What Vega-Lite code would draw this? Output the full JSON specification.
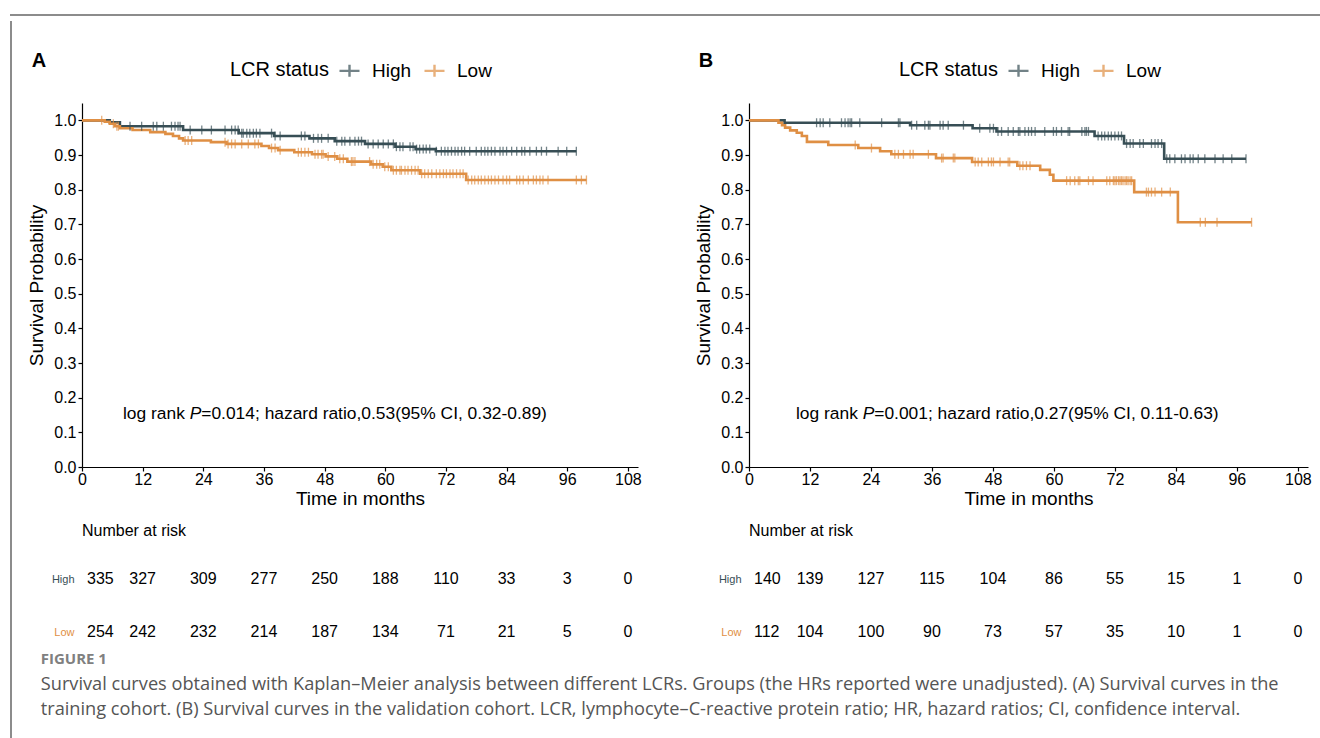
{
"$schema":"https://vega.github.io/schema/vega-lite/v6.json",
"background":"white",
"padding":{"left":8,"top":12,"right":0,"bottom":0},
"config":{
 "font":"Liberation Sans",
 "view":{"stroke":null},
 "axis":{"labelFont":"Liberation Sans","titleFont":"Liberation Sans","labelColor":"#000","titleColor":"#000","domainColor":"#000","tickColor":"#000","grid":false,"labelFontSize":16,"titleFontSize":19,"titleFontWeight":"normal","tickSize":4,"domainWidth":1.2,"tickWidth":1.2,"labelFlush":false,"labelOverlap":false},
 "legend":{"labelFont":"Liberation Sans","titleFont":"Liberation Sans","labelFontSize":19,"titleFontSize":20,"titleFontWeight":"normal","labelColor":"#000","titleColor":"#000"},
 "title":{"font":"Liberation Sans","color":"#000"}
},
"datasets":{
"kmA":[
{"t":0,"s":1,"g":"High","c":0},{"t":5.5,"s":0.994,"g":"High","c":0},{"t":7.5,"s":0.983,"g":"High","c":0},{"t":20,"s":0.972,"g":"High","c":0},{"t":31,"s":0.963,"g":"High","c":0},{"t":38,"s":0.955,"g":"High","c":0},{"t":45,"s":0.948,"g":"High","c":0},{"t":50,"s":0.94,"g":"High","c":0},{"t":56,"s":0.932,"g":"High","c":0},{"t":62,"s":0.924,"g":"High","c":0},{"t":66,"s":0.917,"g":"High","c":0},{"t":70,"s":0.911,"g":"High","c":0},
{"t":9.5,"s":0.983,"g":"High","c":1},{"t":11.8,"s":0.983,"g":"High","c":1},{"t":14.1,"s":0.983,"g":"High","c":1},{"t":14.8,"s":0.983,"g":"High","c":1},{"t":16.1,"s":0.983,"g":"High","c":1},{"t":17.7,"s":0.983,"g":"High","c":1},{"t":18.4,"s":0.983,"g":"High","c":1},{"t":19.0,"s":0.983,"g":"High","c":1},{"t":19.4,"s":0.983,"g":"High","c":1},
{"t":21.4,"s":0.972,"g":"High","c":1},{"t":23.7,"s":0.972,"g":"High","c":1},{"t":25.6,"s":0.972,"g":"High","c":1},{"t":28.3,"s":0.972,"g":"High","c":1},{"t":29.6,"s":0.972,"g":"High","c":1},{"t":30.3,"s":0.972,"g":"High","c":1},{"t":30.9,"s":0.972,"g":"High","c":1},
{"t":31.6,"s":0.963,"g":"High","c":1},{"t":31.9,"s":0.963,"g":"High","c":1},{"t":32.6,"s":0.963,"g":"High","c":1},{"t":33.2,"s":0.963,"g":"High","c":1},{"t":33.9,"s":0.963,"g":"High","c":1},{"t":34.5,"s":0.963,"g":"High","c":1},{"t":35.2,"s":0.963,"g":"High","c":1},{"t":37.5,"s":0.963,"g":"High","c":1},
{"t":38.2,"s":0.955,"g":"High","c":1},{"t":39.2,"s":0.955,"g":"High","c":1},{"t":43.4,"s":0.955,"g":"High","c":1},{"t":44.1,"s":0.955,"g":"High","c":1},
{"t":45.8,"s":0.948,"g":"High","c":1},{"t":46.7,"s":0.948,"g":"High","c":1},{"t":47.4,"s":0.948,"g":"High","c":1},{"t":48.7,"s":0.948,"g":"High","c":1},
{"t":50.4,"s":0.94,"g":"High","c":1},{"t":51.4,"s":0.94,"g":"High","c":1},{"t":52.0,"s":0.94,"g":"High","c":1},{"t":53.0,"s":0.94,"g":"High","c":1},{"t":54.0,"s":0.94,"g":"High","c":1},{"t":54.7,"s":0.94,"g":"High","c":1},{"t":55.3,"s":0.94,"g":"High","c":1},
{"t":56.6,"s":0.932,"g":"High","c":1},{"t":57.6,"s":0.932,"g":"High","c":1},{"t":58.6,"s":0.932,"g":"High","c":1},{"t":59.6,"s":0.932,"g":"High","c":1},{"t":60.6,"s":0.932,"g":"High","c":1},{"t":61.6,"s":0.932,"g":"High","c":1},
{"t":62.2,"s":0.924,"g":"High","c":1},{"t":62.9,"s":0.924,"g":"High","c":1},{"t":63.5,"s":0.924,"g":"High","c":1},{"t":64.9,"s":0.924,"g":"High","c":1},{"t":65.5,"s":0.924,"g":"High","c":1},
{"t":66.2,"s":0.917,"g":"High","c":1},{"t":66.8,"s":0.917,"g":"High","c":1},{"t":67.5,"s":0.917,"g":"High","c":1},{"t":68.1,"s":0.917,"g":"High","c":1},{"t":68.8,"s":0.917,"g":"High","c":1},
{"t":70.1,"s":0.911,"g":"High","c":1},{"t":71.1,"s":0.911,"g":"High","c":1},{"t":71.8,"s":0.911,"g":"High","c":1},{"t":72.4,"s":0.911,"g":"High","c":1},{"t":73.1,"s":0.911,"g":"High","c":1},{"t":73.8,"s":0.911,"g":"High","c":1},{"t":74.4,"s":0.911,"g":"High","c":1},{"t":75.1,"s":0.911,"g":"High","c":1},{"t":75.7,"s":0.911,"g":"High","c":1},{"t":76.7,"s":0.911,"g":"High","c":1},{"t":78.0,"s":0.911,"g":"High","c":1},{"t":79.0,"s":0.911,"g":"High","c":1},{"t":79.7,"s":0.911,"g":"High","c":1},{"t":80.3,"s":0.911,"g":"High","c":1},{"t":81.0,"s":0.911,"g":"High","c":1},{"t":81.7,"s":0.911,"g":"High","c":1},{"t":82.7,"s":0.911,"g":"High","c":1},{"t":83.3,"s":0.911,"g":"High","c":1},{"t":84.0,"s":0.911,"g":"High","c":1},{"t":85.0,"s":0.911,"g":"High","c":1},{"t":86.0,"s":0.911,"g":"High","c":1},{"t":87.0,"s":0.911,"g":"High","c":1},{"t":87.6,"s":0.911,"g":"High","c":1},{"t":88.6,"s":0.911,"g":"High","c":1},{"t":89.9,"s":0.911,"g":"High","c":1},{"t":90.9,"s":0.911,"g":"High","c":1},{"t":91.9,"s":0.911,"g":"High","c":1},{"t":94.2,"s":0.911,"g":"High","c":1},{"t":95.9,"s":0.911,"g":"High","c":1},{"t":97.8,"s":0.911,"g":"High","c":1},
{"t":0,"s":1,"g":"Low","c":0},{"t":4.5,"s":0.996,"g":"Low","c":0},{"t":5.5,"s":0.99,"g":"Low","c":0},{"t":6.5,"s":0.983,"g":"Low","c":0},{"t":7.5,"s":0.977,"g":"Low","c":0},{"t":10,"s":0.972,"g":"Low","c":0},{"t":13.5,"s":0.966,"g":"Low","c":0},{"t":16.5,"s":0.961,"g":"Low","c":0},{"t":18,"s":0.955,"g":"Low","c":0},{"t":19.2,"s":0.948,"g":"Low","c":0},{"t":20,"s":0.942,"g":"Low","c":0},{"t":25.5,"s":0.937,"g":"Low","c":0},{"t":28.6,"s":0.932,"g":"Low","c":0},{"t":35.5,"s":0.926,"g":"Low","c":0},{"t":37,"s":0.92,"g":"Low","c":0},{"t":38.8,"s":0.914,"g":"Low","c":0},{"t":42,"s":0.908,"g":"Low","c":0},{"t":45.5,"s":0.902,"g":"Low","c":0},{"t":48.2,"s":0.896,"g":"Low","c":0},{"t":50.5,"s":0.889,"g":"Low","c":0},{"t":52.5,"s":0.881,"g":"Low","c":0},{"t":57.2,"s":0.873,"g":"Low","c":0},{"t":59.5,"s":0.866,"g":"Low","c":0},{"t":61.2,"s":0.856,"g":"Low","c":0},{"t":66.9,"s":0.846,"g":"Low","c":0},{"t":76,"s":0.828,"g":"Low","c":0},
{"t":3.9,"s":1,"g":"Low","c":1},{"t":6.2,"s":0.99,"g":"Low","c":1},{"t":6.9,"s":0.983,"g":"Low","c":1},{"t":7.2,"s":0.983,"g":"Low","c":1},
{"t":20.4,"s":0.942,"g":"Low","c":1},{"t":21.0,"s":0.942,"g":"Low","c":1},{"t":21.7,"s":0.942,"g":"Low","c":1},{"t":28.3,"s":0.937,"g":"Low","c":1},
{"t":28.9,"s":0.932,"g":"Low","c":1},{"t":29.6,"s":0.932,"g":"Low","c":1},{"t":30.3,"s":0.932,"g":"Low","c":1},{"t":31.6,"s":0.932,"g":"Low","c":1},{"t":32.9,"s":0.932,"g":"Low","c":1},{"t":34.2,"s":0.932,"g":"Low","c":1},{"t":34.9,"s":0.932,"g":"Low","c":1},
{"t":37.5,"s":0.92,"g":"Low","c":1},{"t":38.2,"s":0.92,"g":"Low","c":1},{"t":39.2,"s":0.914,"g":"Low","c":1},
{"t":42.8,"s":0.908,"g":"Low","c":1},{"t":43.4,"s":0.908,"g":"Low","c":1},{"t":44.1,"s":0.908,"g":"Low","c":1},{"t":44.8,"s":0.908,"g":"Low","c":1},
{"t":46.1,"s":0.902,"g":"Low","c":1},{"t":46.7,"s":0.902,"g":"Low","c":1},{"t":47.4,"s":0.902,"g":"Low","c":1},{"t":47.7,"s":0.902,"g":"Low","c":1},
{"t":48.7,"s":0.896,"g":"Low","c":1},{"t":50.0,"s":0.896,"g":"Low","c":1},{"t":51.0,"s":0.889,"g":"Low","c":1},{"t":51.7,"s":0.889,"g":"Low","c":1},
{"t":53.3,"s":0.881,"g":"Low","c":1},{"t":53.6,"s":0.881,"g":"Low","c":1},{"t":54.0,"s":0.881,"g":"Low","c":1},{"t":56.9,"s":0.881,"g":"Low","c":1},
{"t":57.6,"s":0.873,"g":"Low","c":1},{"t":58.3,"s":0.873,"g":"Low","c":1},{"t":58.9,"s":0.873,"g":"Low","c":1},{"t":59.9,"s":0.866,"g":"Low","c":1},{"t":60.6,"s":0.866,"g":"Low","c":1},
{"t":61.6,"s":0.856,"g":"Low","c":1},{"t":62.2,"s":0.856,"g":"Low","c":1},{"t":62.9,"s":0.856,"g":"Low","c":1},{"t":63.2,"s":0.856,"g":"Low","c":1},{"t":63.9,"s":0.856,"g":"Low","c":1},{"t":64.5,"s":0.856,"g":"Low","c":1},{"t":65.2,"s":0.856,"g":"Low","c":1},{"t":65.9,"s":0.856,"g":"Low","c":1},{"t":66.5,"s":0.856,"g":"Low","c":1},
{"t":67.2,"s":0.846,"g":"Low","c":1},{"t":67.8,"s":0.846,"g":"Low","c":1},{"t":68.5,"s":0.846,"g":"Low","c":1},{"t":69.2,"s":0.846,"g":"Low","c":1},{"t":70.1,"s":0.846,"g":"Low","c":1},{"t":70.8,"s":0.846,"g":"Low","c":1},{"t":71.5,"s":0.846,"g":"Low","c":1},{"t":72.1,"s":0.846,"g":"Low","c":1},{"t":72.8,"s":0.846,"g":"Low","c":1},{"t":73.4,"s":0.846,"g":"Low","c":1},{"t":74.1,"s":0.846,"g":"Low","c":1},{"t":74.8,"s":0.846,"g":"Low","c":1},{"t":75.4,"s":0.846,"g":"Low","c":1},
{"t":76.4,"s":0.828,"g":"Low","c":1},{"t":77.1,"s":0.828,"g":"Low","c":1},{"t":77.7,"s":0.828,"g":"Low","c":1},{"t":78.4,"s":0.828,"g":"Low","c":1},{"t":79.0,"s":0.828,"g":"Low","c":1},{"t":79.7,"s":0.828,"g":"Low","c":1},{"t":80.4,"s":0.828,"g":"Low","c":1},{"t":81.0,"s":0.828,"g":"Low","c":1},{"t":81.7,"s":0.828,"g":"Low","c":1},{"t":82.4,"s":0.828,"g":"Low","c":1},{"t":83.3,"s":0.828,"g":"Low","c":1},{"t":84.0,"s":0.828,"g":"Low","c":1},{"t":84.6,"s":0.828,"g":"Low","c":1},{"t":86.0,"s":0.828,"g":"Low","c":1},{"t":86.6,"s":0.828,"g":"Low","c":1},{"t":87.3,"s":0.828,"g":"Low","c":1},{"t":88.3,"s":0.828,"g":"Low","c":1},{"t":89.3,"s":0.828,"g":"Low","c":1},{"t":89.9,"s":0.828,"g":"Low","c":1},{"t":90.6,"s":0.828,"g":"Low","c":1},{"t":91.2,"s":0.828,"g":"Low","c":1},{"t":92.2,"s":0.828,"g":"Low","c":1},{"t":97.8,"s":0.828,"g":"Low","c":1},{"t":98.8,"s":0.828,"g":"Low","c":1},{"t":99.8,"s":0.828,"g":"Low","c":1}
],
"kmB":[
{"t":0,"s":1,"g":"High","c":0},{"t":7,"s":0.993,"g":"High","c":0},{"t":31.7,"s":0.986,"g":"High","c":0},{"t":44,"s":0.977,"g":"High","c":0},{"t":48.7,"s":0.968,"g":"High","c":0},{"t":68,"s":0.955,"g":"High","c":0},{"t":73.8,"s":0.933,"g":"High","c":0},{"t":81.7,"s":0.889,"g":"High","c":0},
{"t":13.3,"s":0.993,"g":"High","c":1},{"t":14.0,"s":0.993,"g":"High","c":1},{"t":14.6,"s":0.993,"g":"High","c":1},{"t":15.9,"s":0.993,"g":"High","c":1},{"t":18.2,"s":0.993,"g":"High","c":1},{"t":18.9,"s":0.993,"g":"High","c":1},{"t":19.5,"s":0.993,"g":"High","c":1},{"t":19.9,"s":0.993,"g":"High","c":1},{"t":20.2,"s":0.993,"g":"High","c":1},{"t":21.8,"s":0.993,"g":"High","c":1},{"t":26.1,"s":0.993,"g":"High","c":1},{"t":29.4,"s":0.993,"g":"High","c":1},{"t":29.7,"s":0.993,"g":"High","c":1},
{"t":32.0,"s":0.986,"g":"High","c":1},{"t":33.0,"s":0.986,"g":"High","c":1},{"t":34.6,"s":0.986,"g":"High","c":1},{"t":35.3,"s":0.986,"g":"High","c":1},{"t":35.6,"s":0.986,"g":"High","c":1},{"t":37.6,"s":0.986,"g":"High","c":1},{"t":38.2,"s":0.986,"g":"High","c":1},{"t":39.2,"s":0.986,"g":"High","c":1},{"t":42.2,"s":0.986,"g":"High","c":1},
{"t":45.4,"s":0.977,"g":"High","c":1},{"t":47.4,"s":0.977,"g":"High","c":1},{"t":48.1,"s":0.977,"g":"High","c":1},
{"t":49.0,"s":0.968,"g":"High","c":1},{"t":49.7,"s":0.968,"g":"High","c":1},{"t":51.0,"s":0.968,"g":"High","c":1},{"t":52.0,"s":0.968,"g":"High","c":1},{"t":53.0,"s":0.968,"g":"High","c":1},{"t":53.3,"s":0.968,"g":"High","c":1},{"t":54.3,"s":0.968,"g":"High","c":1},{"t":55.0,"s":0.968,"g":"High","c":1},{"t":55.6,"s":0.968,"g":"High","c":1},{"t":56.3,"s":0.968,"g":"High","c":1},{"t":58.2,"s":0.968,"g":"High","c":1},{"t":59.9,"s":0.968,"g":"High","c":1},{"t":60.5,"s":0.968,"g":"High","c":1},{"t":61.5,"s":0.968,"g":"High","c":1},{"t":62.8,"s":0.968,"g":"High","c":1},{"t":63.1,"s":0.968,"g":"High","c":1},{"t":65.5,"s":0.968,"g":"High","c":1},{"t":66.1,"s":0.968,"g":"High","c":1},{"t":66.4,"s":0.968,"g":"High","c":1},{"t":66.8,"s":0.968,"g":"High","c":1},
{"t":68.7,"s":0.955,"g":"High","c":1},{"t":69.4,"s":0.955,"g":"High","c":1},{"t":70.0,"s":0.955,"g":"High","c":1},{"t":70.7,"s":0.955,"g":"High","c":1},{"t":71.3,"s":0.955,"g":"High","c":1},{"t":72.0,"s":0.955,"g":"High","c":1},{"t":72.7,"s":0.955,"g":"High","c":1},{"t":73.3,"s":0.955,"g":"High","c":1},
{"t":74.3,"s":0.933,"g":"High","c":1},{"t":75.0,"s":0.933,"g":"High","c":1},{"t":75.6,"s":0.933,"g":"High","c":1},{"t":76.9,"s":0.933,"g":"High","c":1},{"t":77.6,"s":0.933,"g":"High","c":1},{"t":79.2,"s":0.933,"g":"High","c":1},{"t":79.9,"s":0.933,"g":"High","c":1},{"t":80.5,"s":0.933,"g":"High","c":1},{"t":81.2,"s":0.933,"g":"High","c":1},
{"t":82.2,"s":0.889,"g":"High","c":1},{"t":82.8,"s":0.889,"g":"High","c":1},{"t":83.8,"s":0.889,"g":"High","c":1},{"t":85.1,"s":0.889,"g":"High","c":1},{"t":85.8,"s":0.889,"g":"High","c":1},{"t":86.8,"s":0.889,"g":"High","c":1},{"t":87.4,"s":0.889,"g":"High","c":1},{"t":88.4,"s":0.889,"g":"High","c":1},{"t":89.7,"s":0.889,"g":"High","c":1},{"t":91.7,"s":0.889,"g":"High","c":1},{"t":93.3,"s":0.889,"g":"High","c":1},{"t":95.0,"s":0.889,"g":"High","c":1},{"t":97.8,"s":0.889,"g":"High","c":1},
{"t":0,"s":1,"g":"Low","c":0},{"t":5.8,"s":0.993,"g":"Low","c":0},{"t":6.5,"s":0.986,"g":"Low","c":0},{"t":7.1,"s":0.979,"g":"Low","c":0},{"t":8.1,"s":0.971,"g":"Low","c":0},{"t":9.4,"s":0.964,"g":"Low","c":0},{"t":10.4,"s":0.955,"g":"Low","c":0},{"t":11.4,"s":0.938,"g":"Low","c":0},{"t":15.6,"s":0.929,"g":"Low","c":0},{"t":21.5,"s":0.92,"g":"Low","c":0},{"t":25.8,"s":0.911,"g":"Low","c":0},{"t":28,"s":0.902,"g":"Low","c":0},{"t":36.8,"s":0.891,"g":"Low","c":0},{"t":43.9,"s":0.88,"g":"Low","c":0},{"t":52.8,"s":0.869,"g":"Low","c":0},{"t":57.3,"s":0.857,"g":"Low","c":0},{"t":59.2,"s":0.843,"g":"Low","c":0},{"t":59.9,"s":0.826,"g":"Low","c":0},{"t":75.8,"s":0.793,"g":"Low","c":0},{"t":84.4,"s":0.706,"g":"Low","c":0},
{"t":20.9,"s":0.929,"g":"Low","c":1},{"t":24.1,"s":0.92,"g":"Low","c":1},
{"t":28.7,"s":0.902,"g":"Low","c":1},{"t":29.4,"s":0.902,"g":"Low","c":1},{"t":30.4,"s":0.902,"g":"Low","c":1},{"t":31.7,"s":0.902,"g":"Low","c":1},{"t":32.3,"s":0.902,"g":"Low","c":1},{"t":35.3,"s":0.902,"g":"Low","c":1},
{"t":37.9,"s":0.891,"g":"Low","c":1},{"t":38.2,"s":0.891,"g":"Low","c":1},{"t":40.2,"s":0.891,"g":"Low","c":1},{"t":40.5,"s":0.891,"g":"Low","c":1},
{"t":44.5,"s":0.88,"g":"Low","c":1},{"t":45.1,"s":0.88,"g":"Low","c":1},{"t":45.8,"s":0.88,"g":"Low","c":1},{"t":47.1,"s":0.88,"g":"Low","c":1},{"t":47.7,"s":0.88,"g":"Low","c":1},{"t":48.1,"s":0.88,"g":"Low","c":1},{"t":49.4,"s":0.88,"g":"Low","c":1},{"t":51.0,"s":0.88,"g":"Low","c":1},{"t":51.3,"s":0.88,"g":"Low","c":1},
{"t":53.3,"s":0.869,"g":"Low","c":1},{"t":53.9,"s":0.869,"g":"Low","c":1},{"t":54.6,"s":0.869,"g":"Low","c":1},{"t":55.3,"s":0.869,"g":"Low","c":1},
{"t":62.5,"s":0.826,"g":"Low","c":1},{"t":63.2,"s":0.826,"g":"Low","c":1},{"t":64.1,"s":0.826,"g":"Low","c":1},{"t":64.8,"s":0.826,"g":"Low","c":1},{"t":65.1,"s":0.826,"g":"Low","c":1},{"t":66.8,"s":0.826,"g":"Low","c":1},{"t":67.7,"s":0.826,"g":"Low","c":1},{"t":70.4,"s":0.826,"g":"Low","c":1},{"t":71.0,"s":0.826,"g":"Low","c":1},{"t":71.7,"s":0.826,"g":"Low","c":1},{"t":72.0,"s":0.826,"g":"Low","c":1},{"t":72.3,"s":0.826,"g":"Low","c":1},{"t":72.7,"s":0.826,"g":"Low","c":1},{"t":73.0,"s":0.826,"g":"Low","c":1},{"t":73.3,"s":0.826,"g":"Low","c":1},{"t":73.6,"s":0.826,"g":"Low","c":1},{"t":74.0,"s":0.826,"g":"Low","c":1},{"t":74.3,"s":0.826,"g":"Low","c":1},{"t":74.6,"s":0.826,"g":"Low","c":1},{"t":75.0,"s":0.826,"g":"Low","c":1},{"t":75.3,"s":0.826,"g":"Low","c":1},
{"t":78.2,"s":0.793,"g":"Low","c":1},{"t":78.6,"s":0.793,"g":"Low","c":1},{"t":79.2,"s":0.793,"g":"Low","c":1},{"t":79.9,"s":0.793,"g":"Low","c":1},{"t":81.2,"s":0.793,"g":"Low","c":1},{"t":82.9,"s":0.793,"g":"Low","c":1},
{"t":88.8,"s":0.706,"g":"Low","c":1},{"t":89.8,"s":0.706,"g":"Low","c":1},{"t":92.1,"s":0.706,"g":"Low","c":1},{"t":98.9,"s":0.706,"g":"Low","c":1}
],
"riskA":[
{"t":0,"g":"High","n":335},{"t":12,"g":"High","n":327},{"t":24,"g":"High","n":309},{"t":36,"g":"High","n":277},{"t":48,"g":"High","n":250},{"t":60,"g":"High","n":188},{"t":72,"g":"High","n":110},{"t":84,"g":"High","n":33},{"t":96,"g":"High","n":3},{"t":108,"g":"High","n":0},
{"t":0,"g":"Low","n":254},{"t":12,"g":"Low","n":242},{"t":24,"g":"Low","n":232},{"t":36,"g":"Low","n":214},{"t":48,"g":"Low","n":187},{"t":60,"g":"Low","n":134},{"t":72,"g":"Low","n":71},{"t":84,"g":"Low","n":21},{"t":96,"g":"Low","n":5},{"t":108,"g":"Low","n":0}
],
"riskB":[
{"t":0,"g":"High","n":140},{"t":12,"g":"High","n":139},{"t":24,"g":"High","n":127},{"t":36,"g":"High","n":115},{"t":48,"g":"High","n":104},{"t":60,"g":"High","n":86},{"t":72,"g":"High","n":55},{"t":84,"g":"High","n":15},{"t":96,"g":"High","n":1},{"t":108,"g":"High","n":0},
{"t":0,"g":"Low","n":112},{"t":12,"g":"Low","n":104},{"t":24,"g":"Low","n":100},{"t":36,"g":"Low","n":90},{"t":48,"g":"Low","n":73},{"t":60,"g":"Low","n":57},{"t":72,"g":"Low","n":35},{"t":84,"g":"Low","n":10},{"t":96,"g":"Low","n":1},{"t":108,"g":"Low","n":0}
]
},
"spacing":0,
"resolve":{"scale":{"color":"independent"},"legend":{"color":"independent"}},
"vconcat":[
 {"width":1312,"height":2,"view":{"fill":"#8c8c8c","stroke":null},"data":{"values":[{}]},"mark":{"type":"point","opacity":0}},
 {"spacing":13,
  "resolve":{"scale":{"color":"independent"},"legend":{"color":"independent"}},
  "hconcat":[
   {"width":2,"height":724,"view":{"fill":"#8c8c8c","stroke":null},"data":{"values":[{}]},"mark":{"type":"point","opacity":0}},
   {"spacing":26,
    "resolve":{"scale":{"color":"independent"},"legend":{"color":"independent"}},
    "title":{"text":"FIGURE 1","subtitle":["Survival curves obtained with Kaplan–Meier analysis between different LCRs. Groups (the HRs reported were unadjusted). (A) Survival curves in the","training cohort. (B) Survival curves in the validation cohort. LCR, lymphocyte–C-reactive protein ratio; HR, hazard ratios; CI, confidence interval."],"orient":"bottom","anchor":"start","frame":"bounds","font":"Open Sans","fontSize":15,"fontWeight":"bold","color":"#808080","subtitleFont":"Open Sans","subtitleFontSize":18.2,"subtitleColor":"#555555","subtitleLineHeight":25,"subtitlePadding":9,"offset":12,"dx":13},
    "vconcat":[
     {"width":1,"height":1,"data":{"values":[{}]},"mark":{"type":"point","opacity":0}},
     {"spacing":52,
      "resolve":{"scale":{"color":"independent"},"legend":{"color":"independent"}},
      "hconcat":[
       {"spacing":15,
        "resolve":{"scale":{"color":"independent"},"legend":{"color":"independent"}},
        "vconcat":[
         {"width":556,"height":364,
          "title":{"text":"A","anchor":"start","frame":"bounds","fontSize":20,"fontWeight":"bold","offset":-12,"dx":4},
          "data":{"name":"kmA"},
          "layer":[
           {"mark":{"type":"line","interpolate":"step-after","strokeWidth":2.6},
            "encoding":{
             "x":{"field":"t","type":"quantitative","scale":{"domain":[0,110],"nice":false,"zero":false},"axis":{"values":[0,12,24,36,48,60,72,84,96,108],"title":"Time in months","titlePadding":2,"labelPadding":0,"labelOverlap":false}},
             "y":{"field":"s","type":"quantitative","scale":{"domain":[0,1.05],"nice":false},"axis":{"values":[0,0.1,0.2,0.3,0.4,0.5,0.6,0.7,0.8,0.9,1.0],"tickCount":11,"format":".1f","title":"Survival Probability","titlePadding":7,"labelPadding":2,"labelOverlap":false}},
             "color":{"field":"g","type":"nominal","scale":{"domain":["High","Low"],"range":["#374E55","#DF8F44"]},
               "legend":{"title":"LCR status","orient":"none","legendX":148,"legendY":-44,"direction":"horizontal","titleOrient":"left","symbolType":"M-1,0H1M0,-0.6V0.6","symbolSize":400,"symbolStrokeWidth":2.4,"columnPadding":7,"labelOffset":11,"titlePadding":9}}}},
           {"transform":[{"filter":"datum.c == 1"}],
            "mark":{"type":"tick","orient":"vertical","size":9,"thickness":1.3},
            "encoding":{
             "x":{"field":"t","type":"quantitative","axis":{"values":[0,12,24,36,48,60,72,84,96,108],"title":"Time in months","titlePadding":2,"labelPadding":0,"labelOverlap":false}},
             "y":{"field":"s","type":"quantitative","axis":{"values":[0,0.1,0.2,0.3,0.4,0.5,0.6,0.7,0.8,0.9,1.0],"tickCount":11,"format":".1f","title":"Survival Probability","titlePadding":7,"labelPadding":2,"labelOverlap":false}},
             "color":{"field":"g","type":"nominal"}}},
           {"data":{"values":[{"label":"log rank"}]},
            "mark":{"type":"text","fontSize":17.4,"align":"right","baseline":"middle","color":"#000"},
            "encoding":{"x":{"datum":20.35,"axis":{"values":[0,12,24,36,48,60,72,84,96,108],"title":"Time in months","titlePadding":2,"labelPadding":0,"labelOverlap":false}},"y":{"datum":0.153,"axis":{"values":[0,0.1,0.2,0.3,0.4,0.5,0.6,0.7,0.8,0.9,1.0],"tickCount":11,"format":".1f","title":"Survival Probability","titlePadding":7,"labelPadding":2,"labelOverlap":false}},"text":{"field":"label"}}},
           {"data":{"values":[{"label":"P"}]},
            "mark":{"type":"text","fontSize":17.4,"fontStyle":"italic","align":"center","baseline":"middle","color":"#000"},
            "encoding":{"x":{"datum":22.45,"axis":{"values":[0,12,24,36,48,60,72,84,96,108],"title":"Time in months","titlePadding":2,"labelPadding":0,"labelOverlap":false}},"y":{"datum":0.153,"axis":{"values":[0,0.1,0.2,0.3,0.4,0.5,0.6,0.7,0.8,0.9,1.0],"tickCount":11,"format":".1f","title":"Survival Probability","titlePadding":7,"labelPadding":2,"labelOverlap":false}},"text":{"field":"label"}}},
           {"data":{"values":[{"label":"=0.014; hazard ratio,0.53(95% CI, 0.32-0.89)"}]},
            "mark":{"type":"text","fontSize":17.4,"align":"left","baseline":"middle","color":"#000"},
            "encoding":{"x":{"datum":23.6,"axis":{"values":[0,12,24,36,48,60,72,84,96,108],"title":"Time in months","titlePadding":2,"labelPadding":0,"labelOverlap":false}},"y":{"datum":0.153,"axis":{"values":[0,0.1,0.2,0.3,0.4,0.5,0.6,0.7,0.8,0.9,1.0],"tickCount":11,"format":".1f","title":"Survival Probability","titlePadding":7,"labelPadding":2,"labelOverlap":false}},"text":{"field":"label"}}}
          ]},
         {"width":556,"height":53,
          "title":{"text":"Number at risk","anchor":"start","frame":"group","fontSize":16,"fontWeight":"normal","offset":32},
          "data":{"name":"riskA"},
          "encoding":{
            "x":{"field":"t","type":"quantitative","scale":{"domain":[0,110],"nice":false},"axis":null},
            "y":{"field":"g","type":"nominal","scale":{"type":"point","domain":["High","Low"],"padding":0},"axis":{"title":null,"domain":false,"ticks":false,"labelFontSize":11,"labelPadding":8,"labelColor":{"condition":{"test":"datum.value == 'High'","value":"#374E55"},"value":"#DF8F44"}}},
            "text":{"field":"n","type":"quantitative"}},
          "layer":[
           {"transform":[{"filter":"datum.t > 0"}],"mark":{"type":"text","fontSize":16,"align":"center","baseline":"middle","color":"#000"}},
           {"transform":[{"filter":"datum.t == 0"}],"mark":{"type":"text","fontSize":16,"align":"left","dx":5,"baseline":"middle","color":"#000"}}
          ]}
       ]},
       {"spacing":15,
        "resolve":{"scale":{"color":"independent"},"legend":{"color":"independent"}},
        "vconcat":[
         {"width":559,"height":364,
          "title":{"text":"B","anchor":"start","frame":"bounds","fontSize":20,"fontWeight":"bold","offset":-12,"dx":4},
          "data":{"name":"kmB"},
          "layer":[
           {"mark":{"type":"line","interpolate":"step-after","strokeWidth":2.6},
            "encoding":{
             "x":{"field":"t","type":"quantitative","scale":{"domain":[0,110],"nice":false,"zero":false},"axis":{"values":[0,12,24,36,48,60,72,84,96,108],"title":"Time in months","titlePadding":2,"labelPadding":0,"labelOverlap":false}},
             "y":{"field":"s","type":"quantitative","scale":{"domain":[0,1.05],"nice":false},"axis":{"values":[0,0.1,0.2,0.3,0.4,0.5,0.6,0.7,0.8,0.9,1.0],"tickCount":11,"format":".1f","title":"Survival Probability","titlePadding":7,"labelPadding":2,"labelOverlap":false}},
             "color":{"field":"g","type":"nominal","scale":{"domain":["High","Low"],"range":["#374E55","#DF8F44"]},
               "legend":{"title":"LCR status","orient":"none","legendX":150,"legendY":-44,"direction":"horizontal","titleOrient":"left","symbolType":"M-1,0H1M0,-0.6V0.6","symbolSize":400,"symbolStrokeWidth":2.4,"columnPadding":7,"labelOffset":11,"titlePadding":9}}}},
           {"transform":[{"filter":"datum.c == 1"}],
            "mark":{"type":"tick","orient":"vertical","size":9,"thickness":1.3},
            "encoding":{
             "x":{"field":"t","type":"quantitative","axis":{"values":[0,12,24,36,48,60,72,84,96,108],"title":"Time in months","titlePadding":2,"labelPadding":0,"labelOverlap":false}},
             "y":{"field":"s","type":"quantitative","axis":{"values":[0,0.1,0.2,0.3,0.4,0.5,0.6,0.7,0.8,0.9,1.0],"tickCount":11,"format":".1f","title":"Survival Probability","titlePadding":7,"labelPadding":2,"labelOverlap":false}},
             "color":{"field":"g","type":"nominal"}}},
           {"data":{"values":[{"label":"log rank"}]},
            "mark":{"type":"text","fontSize":17.4,"align":"right","baseline":"middle","color":"#000"},
            "encoding":{"x":{"datum":21.42,"axis":{"values":[0,12,24,36,48,60,72,84,96,108],"title":"Time in months","titlePadding":2,"labelPadding":0,"labelOverlap":false}},"y":{"datum":0.153,"axis":{"values":[0,0.1,0.2,0.3,0.4,0.5,0.6,0.7,0.8,0.9,1.0],"tickCount":11,"format":".1f","title":"Survival Probability","titlePadding":7,"labelPadding":2,"labelOverlap":false}},"text":{"field":"label"}}},
           {"data":{"values":[{"label":"P"}]},
            "mark":{"type":"text","fontSize":17.4,"fontStyle":"italic","align":"center","baseline":"middle","color":"#000"},
            "encoding":{"x":{"datum":23.51,"axis":{"values":[0,12,24,36,48,60,72,84,96,108],"title":"Time in months","titlePadding":2,"labelPadding":0,"labelOverlap":false}},"y":{"datum":0.153,"axis":{"values":[0,0.1,0.2,0.3,0.4,0.5,0.6,0.7,0.8,0.9,1.0],"tickCount":11,"format":".1f","title":"Survival Probability","titlePadding":7,"labelPadding":2,"labelOverlap":false}},"text":{"field":"label"}}},
           {"data":{"values":[{"label":"=0.001; hazard ratio,0.27(95% CI, 0.11-0.63)"}]},
            "mark":{"type":"text","fontSize":17.4,"align":"left","baseline":"middle","color":"#000"},
            "encoding":{"x":{"datum":24.65,"axis":{"values":[0,12,24,36,48,60,72,84,96,108],"title":"Time in months","titlePadding":2,"labelPadding":0,"labelOverlap":false}},"y":{"datum":0.153,"axis":{"values":[0,0.1,0.2,0.3,0.4,0.5,0.6,0.7,0.8,0.9,1.0],"tickCount":11,"format":".1f","title":"Survival Probability","titlePadding":7,"labelPadding":2,"labelOverlap":false}},"text":{"field":"label"}}}
          ]},
         {"width":559,"height":53,
          "title":{"text":"Number at risk","anchor":"start","frame":"group","fontSize":16,"fontWeight":"normal","offset":32},
          "data":{"name":"riskB"},
          "encoding":{
            "x":{"field":"t","type":"quantitative","scale":{"domain":[0,110],"nice":false},"axis":null},
            "y":{"field":"g","type":"nominal","scale":{"type":"point","domain":["High","Low"],"padding":0},"axis":{"title":null,"domain":false,"ticks":false,"labelFontSize":11,"labelPadding":8,"labelColor":{"condition":{"test":"datum.value == 'High'","value":"#374E55"},"value":"#DF8F44"}}},
            "text":{"field":"n","type":"quantitative"}},
          "layer":[
           {"transform":[{"filter":"datum.t > 0"}],"mark":{"type":"text","fontSize":16,"align":"center","baseline":"middle","color":"#000"}},
           {"transform":[{"filter":"datum.t == 0"}],"mark":{"type":"text","fontSize":16,"align":"left","dx":5,"baseline":"middle","color":"#000"}}
          ]}
       ]}
      ]}
    ]}
  ]}
]
}
